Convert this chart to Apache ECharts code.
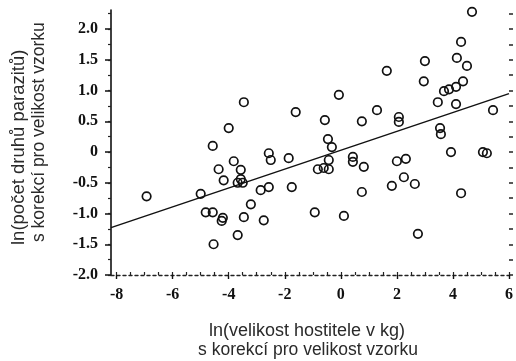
<!DOCTYPE html>
<html>
<head>
<meta charset="utf-8">
<script src="https://cdn.jsdelivr.net/npm/echarts@6/dist/echarts.min.js"></script>
<style>
  html, body { margin: 0; padding: 0; background: #fff; }
  #chart { width: 516px; height: 361px; }
</style>
</head>
<body>
<div id="chart"></div>
<script>
// ln(host body mass), size-corrected
const hostSizeLn = [
  -6.93, -5.00, -4.82, -4.57, -4.54, -4.57, -4.36, -4.21, -4.25, -4.18,
  -4.00, -3.82, -3.68, -3.68, -3.50, -3.57, -3.57, -3.46, -3.46, -3.21,
  -2.86, -2.57, -2.75, -2.57, -2.50, -1.86, -1.75, -1.61, -0.93, -0.82,
  -0.61, -0.43, -0.43, -0.57, -0.46, -0.32, -0.07, 0.11, 0.43, 0.43,
  0.82, 0.75, 0.75, 1.29, 1.64, 1.82, 2.00, 2.07, 2.07, 2.25,
  2.32, 2.64, 2.75, 2.96, 3.00, 3.46, 3.54, 3.57, 3.68, 3.86,
  3.93, 4.11, 4.11, 4.14, 4.29, 4.29, 4.36, 4.50, 4.68, 5.07,
  5.21, 5.43
];
// ln(number of parasite species), size-corrected
const parasiteLn = [
  -0.72, -0.68, -0.98, -0.98, -1.50, 0.10, -0.28, -1.07, -1.12, -0.46,
  0.39, -0.15, -1.35, -0.50, -0.50, -0.44, -0.29, 0.81, -1.06, -0.85,
  -0.62, -0.57, -1.11, -0.02, -0.13, -0.10, -0.57, 0.65, -0.98, -0.28,
  -0.26, -0.28, -0.13, 0.52, 0.21, 0.08, 0.93, -1.04, -0.08, -0.16,
  -0.24, 0.50, -0.65, 0.68, 1.32, -0.55, -0.15, 0.57, 0.49, -0.41,
  -0.11, -0.52, -1.33, 1.15, 1.48, 0.81, 0.39, 0.29, 0.99, 1.02,
  0.00, 1.06, 0.78, 1.53, 1.79, -0.67, 1.15, 1.40, 2.28, 0.00,
  -0.02, 0.68
];
// regression line end points
const fitX = [-8.2, 6];
const fitY = [-1.23, 0.95];

const xTicks = [-8, -6, -4, -2, 0, 2, 4, 6];
const yTicks = [-2, -1.5, -1, -0.5, 0, 0.5, 1, 1.5, 2];
const yMinorTicks = [-2, -1.75, -1.5, -1.25, -1, -0.75, -0.5, -0.25, 0, 0.25, 0.5, 0.75, 1, 1.25, 1.5, 1.75, 2, 2.25];
const xMinorTicks = [-8, -7.5, -7, -6.5, -6, -5.5, -5, -4.5, -4, -3.5, -3, -2.5, -2, -1.5, -1, -0.5, 0, 0.5, 1, 1.5, 2, 2.5, 3, 3.5, 4, 4.5, 5, 5.5, 6];

const X_MIN = -8.2, X_MAX = 6, Y_MIN = -2, Y_MAX = 2.31;

const points = hostSizeLn.map((x, i) => [x, parasiteLn[i]]);
const fitLine = fitX.map((x, i) => [x, fitY[i]]);

const tickFont = { fontFamily: 'Liberation Serif', fontWeight: 'bold', fontSize: 16, color: '#111' };
const nameFont = { fontFamily: 'Liberation Sans', fontSize: 17.5, fill: '#2a2a2a' };

const chart = echarts.init(document.getElementById('chart'), null, { renderer: 'canvas' });
chart.setOption({
  animation: false,
  backgroundColor: '#fff',
  grid: { left: 111, right: 6, top: 10, bottom: 86, containLabel: false },
  xAxis: [
    {
      type: 'value', min: X_MIN, max: X_MAX, position: 'bottom',
      splitLine: { show: false },
      axisLine: { show: true, onZero: false, lineStyle: { color: '#222', width: 1.4, type: [3, 3] } },
      axisTick: { show: true, customValues: xTicks, length: 4, inside: false, lineStyle: { color: '#111', width: 1.4 } },
      axisLabel: Object.assign({ customValues: xTicks, margin: 12 }, tickFont)
    },
    {
      type: 'value', min: X_MIN, max: X_MAX, position: 'bottom',
      splitLine: { show: false },
      axisLine: { show: false, onZero: false },
      axisTick: { show: true, customValues: xMinorTicks, length: 3, inside: true, lineStyle: { color: '#222', width: 1.2 } },
      axisLabel: { show: false }
    }
  ],
  yAxis: [
    {
      type: 'value', min: Y_MIN, max: Y_MAX, position: 'left',
      splitLine: { show: false },
      axisLine: { show: true, onZero: false, lineStyle: { color: '#111', width: 1.6 } },
      axisTick: { show: true, customValues: yTicks, length: 6, lineStyle: { color: '#111', width: 1.5 } },
      axisLabel: Object.assign({
        customValues: yTicks, margin: 13,
        formatter: v => (v === 0 ? '0' : v.toFixed(1))
      }, tickFont)
    },
    {
      type: 'value', min: Y_MIN, max: Y_MAX, position: 'left',
      splitLine: { show: false },
      axisLine: { show: false, onZero: false },
      axisTick: { show: true, customValues: yMinorTicks, length: 3, lineStyle: { color: '#222', width: 1.2 } },
      axisLabel: { show: false }
    },
    {
      type: 'value', min: Y_MIN, max: Y_MAX, position: 'right',
      splitLine: { show: false },
      axisLine: { show: false, onZero: false },
      axisTick: { show: true, customValues: yMinorTicks, length: 4, lineStyle: { color: '#222', width: 1.5 } },
      axisLabel: { show: false }
    }
  ],
  series: [
    {
      type: 'line', xAxisIndex: 0, yAxisIndex: 0,
      data: fitLine, symbol: 'none', silent: true,
      lineStyle: { color: '#111', width: 1.5 }
    },
    {
      type: 'scatter', xAxisIndex: 0, yAxisIndex: 0,
      data: points, symbol: 'circle', symbolSize: 8.5,
      itemStyle: { color: 'rgba(255,255,255,0)', borderColor: '#111', borderWidth: 1.7, opacity: 1 }
    }
  ],
  graphic: [
    { type: 'text', x: 19, y: 245, rotation: Math.PI / 2,
      style: Object.assign({ text: 'ln(počet druhů parazitů)', align: 'left', verticalAlign: 'middle' }, nameFont, { fontSize: 18.5 }) },
    { type: 'text', x: 39, y: 242, rotation: Math.PI / 2,
      style: Object.assign({ text: 's korekcí pro velikost vzorku', align: 'left', verticalAlign: 'middle' }, nameFont) },
    { type: 'text', x: 307, y: 331,
      style: Object.assign({ text: 'ln(velikost hostitele v kg)', align: 'center', verticalAlign: 'middle' }, nameFont, { fontSize: 18 }) },
    { type: 'text', x: 308, y: 350,
      style: Object.assign({ text: 's korekcí pro velikost vzorku', align: 'center', verticalAlign: 'middle' }, nameFont) }
  ]
});
</script>
</body>
</html>
